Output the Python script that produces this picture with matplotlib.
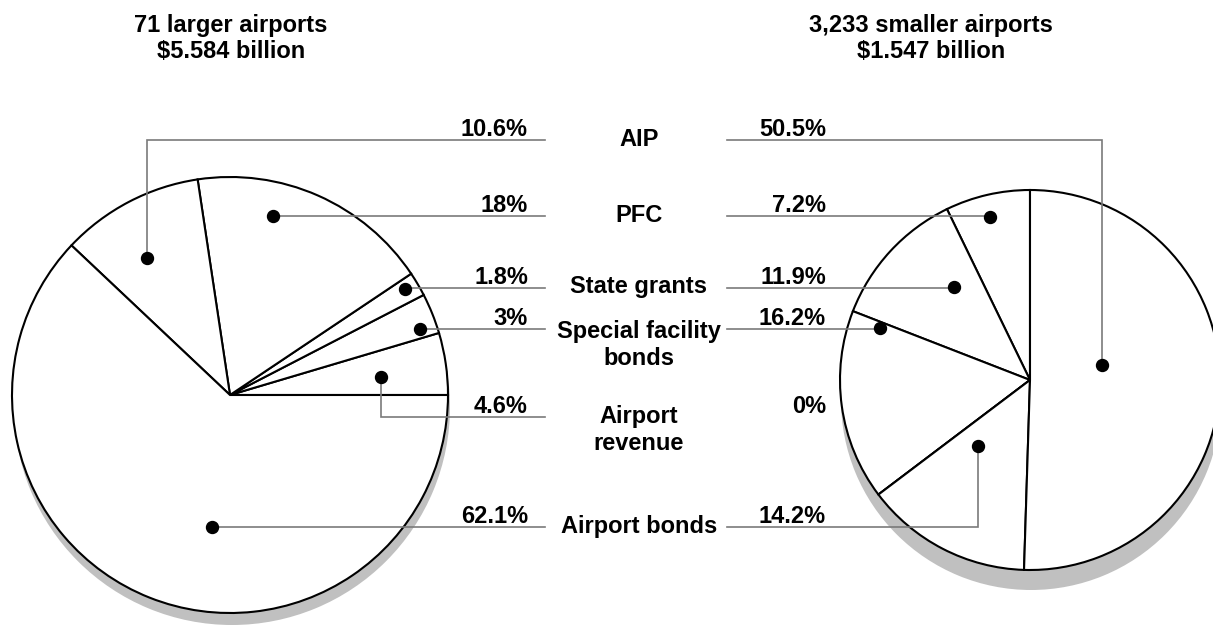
import matplotlib.pyplot as plt

plt.rcParams['font.family'] = ['Liberation Sans', 'DejaVu Sans']

W, H = 1213, 627

# data
rows = ["AIP", "PFC", "State grants", "Special facility\nbonds", "Airport\nrevenue", "Airport bonds"]
large_pct = [10.6, 18, 1.8, 3, 4.6, 62.1]
small_pct = [50.5, 7.2, 11.9, 16.2, 0, 14.2]
titles = ["71 larger airports\n$5.584 billion", "3,233 smaller airports\n$1.547 billion"]

# slice order going round each pie (counter-clockwise on screen)
large_order = [4, 3, 2, 1, 0, 5]   # from 3 o'clock
small_order = [1, 2, 3, 4, 5, 0]   # from 12 o'clock

# layout (pixels, y measured from top)
row_y = [140, 216, 288, 329, 417, 527]
row_base = [146, 222, 293, 338, 423, 533]
large_dots = [(147, 258), (273, 216), (405, 289), (420, 329), (381, 377), (212, 527)]
small_dots = [(1102, 365), (990, 217), (954, 287), (880, 328), None, (978, 446)]

fig = plt.figure(figsize=(W / 100, H / 100), dpi=100)
ax = fig.add_axes([0, 0, 1, 1])


def draw_pie(vals, order, center, r, start, shadow):
    ax.pie([1], center=(center[0] + shadow[0], center[1] + shadow[1]), radius=r,
           colors=['#c0c0c0'], wedgeprops=dict(linewidth=0), frame=True)
    v = [vals[i] for i in order]
    ax.pie(v, center=center, radius=r, startangle=start, counterclock=False,
           colors=['white'] * len(v),
           wedgeprops=dict(edgecolor='black', linewidth=1.5), frame=True)


# y axis is inverted, so clockwise in data = counter-clockwise on screen
draw_pie(large_pct, large_order, (230, 395), 218, 0, (2, 12))
draw_pie(small_pct, small_order, (1030, 380), 190, -90, (1, 20))


def leader(x0, y, dot):
    if dot is None:
        return
    ax.plot([x0, dot[0], dot[0]], [y, y, dot[1]], color='#7a7a7a', lw=1.2,
            solid_joinstyle='miter', zorder=3)
    ax.plot(dot[0], dot[1], 'o', color='black', ms=8.6, zorder=4)


for i in range(len(rows)):
    leader(545, row_y[i], large_dots[i])
    leader(727, row_y[i], small_dots[i])
    ax.text(528, row_y[i] - 4, f"{large_pct[i]:g}%", ha='right', va='baseline',
            fontsize=17, fontweight='bold')
    ax.text(826, row_y[i] - 4, f"{small_pct[i]:g}%", ha='right', va='baseline',
            fontsize=17, fontweight='bold')
    for k, part in enumerate(rows[i].split('\n')):
        ax.text(639, row_base[i] + k * 27, part, ha='center', va='baseline',
                fontsize=17, fontweight='bold')

for tx, t in zip([231, 931], titles):
    for k, part in enumerate(t.split('\n')):
        ax.text(tx, 32 + k * 26, part, ha='center', va='baseline',
                fontsize=17, fontweight='bold')

ax.set_xlim(0, W)
ax.set_ylim(H, 0)
ax.set_aspect('auto')
ax.axis('off')

fig.savefig('out.png', dpi=100)
